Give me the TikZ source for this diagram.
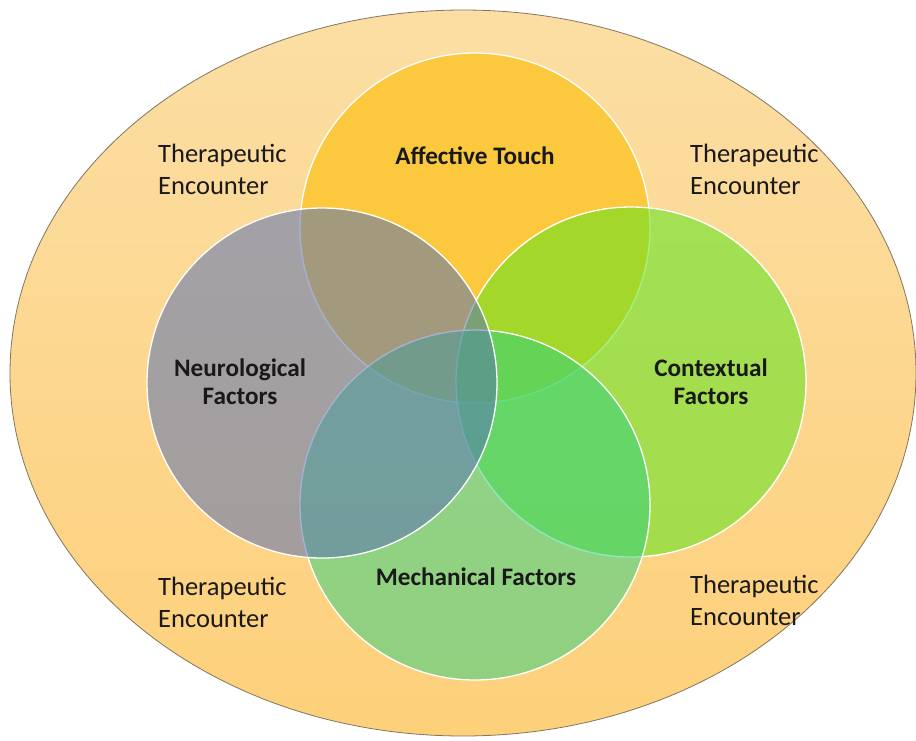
\documentclass[tikz,border=0pt]{standalone}
\usepackage{fontspec}
\setmainfont{Carlito}
\begin{document}
\begin{tikzpicture}[x=1pt,y=-1pt,
  outline/.style={draw=white,line width=1.3pt},
  enc/.style={align=left,anchor=west,inner sep=0pt,font=\fontsize{26.5}{32}\selectfont,text=black!90},
  lab/.style={align=center,inner sep=0pt,font=\bfseries\fontsize{25.2}{28}\selectfont,text=black!90}]
\definecolor{peachtop}{RGB}{252,222,164}
\definecolor{peachbot}{RGB}{253,208,122}
\definecolor{goldc}{RGB}{252,201,62}
\definecolor{neuroc}{RGB}{88,114,178}
\definecolor{contc}{RGB}{91,229,29}
\definecolor{mechc}{RGB}{39,208,129}
\definecolor{rimc}{RGB}{130,118,96}
\useasboundingbox (0,0) rectangle (916,740);
% outer therapeutic encounter
\shade[top color=peachtop,bottom color=peachbot] (463,373) ellipse[x radius=453pt,y radius=363pt];
\draw[rimc,line width=0.8pt] (463,373) ellipse[x radius=453pt,y radius=363pt];
% circles
\coordinate (aff) at (475,228);
\coordinate (con) at (631,382);
\coordinate (mec) at (475,505);
\coordinate (neu) at (322,383);
\fill[goldc] (aff) circle[radius=175pt];
\draw[outline] (aff) circle[radius=175pt];
\fill[contc,fill opacity=0.55] (con) circle[radius=175pt];
\draw[outline] (con) circle[radius=175pt];
\fill[mechc,fill opacity=0.5] (mec) circle[radius=175pt];
\draw[outline] (mec) circle[radius=175pt];
\fill[neuroc,fill opacity=0.54] (neu) circle[radius=175pt];
\draw[outline] (neu) circle[radius=175pt];
% labels
\node[lab] (laff) at (475,156) {Affective Touch};
\node[lab] (lneu) at (240,382) {Neurological\\Factors};
\node[lab] (lcon) at (711,382) {Contextual\\Factors};
\node[lab] (lmec) at (476,577) {Mechanical Factors};
\node[enc] (e1) at (158,169) {Therapeutic\\Encounter};
\node[enc] (e2) at (690,169) {Therapeutic\\Encounter};
\node[enc] (e3) at (158,602) {Therapeutic\\Encounter};
\node[enc] (e4) at (690,600) {Therapeutic\\Encounter};
\end{tikzpicture}
\end{document}
